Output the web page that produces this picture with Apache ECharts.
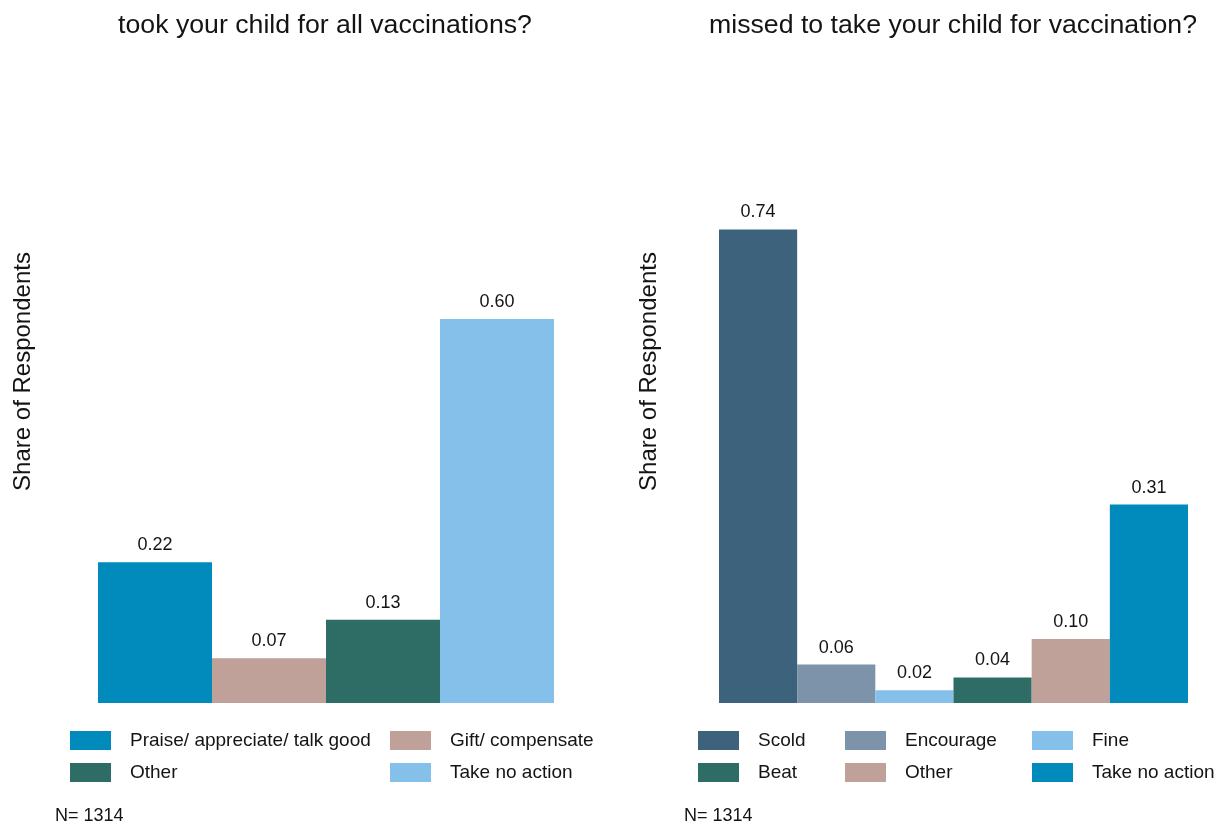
<!DOCTYPE html>
<html>
<head>
<meta charset="utf-8">
<script src="https://cdn.jsdelivr.net/npm/echarts@6/dist/echarts.min.js"></script>
<style>
  html, body { margin: 0; padding: 0; background: #ffffff; }
  #chart { width: 1230px; height: 827px; }
</style>
</head>
<body>
<div id="chart"></div>
<script>
// Survey answers: reaction when the respondent...
const leftTitle = 'took your child for all vaccinations?';
const leftNames = ['Praise/ appreciate/ talk good', 'Gift/ compensate', 'Other', 'Take no action'];
const leftValues = [0.22, 0.07, 0.13, 0.60];
const leftColors = ['#008bbc', '#bfa19a', '#2e6d65', '#85c0ea'];

const rightTitle = 'missed to take your child for vaccination?';
const rightNames = ['Scold', 'Encourage', 'Fine', 'Beat', 'Other', 'Take no action'];
const rightValues = [0.74, 0.06, 0.02, 0.04, 0.10, 0.31];
const rightColors = ['#3d627c', '#7c93aa', '#85c0ea', '#2e6d65', '#bfa19a', '#008bbc'];

const sampleNote = 'N= 1314';
const yAxisTitle = 'Share of Respondents';

const FONT = '"Liberation Sans", Arial, Helvetica, sans-serif';
const TEXT = '#141414';

// Series ids keep the two panels apart even where answer names repeat
function makeSeries(names, values, colors, idx) {
  return names.map((name, i) => ({
    id: 'p' + idx + '_' + i,
    name: name,
    type: 'bar',
    xAxisIndex: idx,
    yAxisIndex: idx,
    barGap: '0%',
    barCategoryGap: '0%',
    data: [values[i]],
    itemStyle: { color: colors[i] },
    label: {
      show: true,
      position: 'top',
      distance: 8,
      formatter: p => p.value.toFixed(2),
      fontFamily: FONT,
      fontSize: 18,
      color: TEXT
    },
    emphasis: { disabled: true },
    animation: false
  }));
}

// One legend column per block; each entry carries its own swatch colour
function legendColumn(names, colors, left, idxList) {
  return {
    orient: 'vertical',
    left: left,
    top: 726,
    itemWidth: 41,
    itemHeight: 19,
    itemGap: 13,
    icon: 'rect',
    selectedMode: false,
    data: idxList.map(i => ({ name: names[i], itemStyle: { color: colors[i] } })),
    textStyle: { fontFamily: FONT, fontSize: 19, color: TEXT, padding: [0, 0, 0, 14] }
  };
}

const chart = echarts.init(document.getElementById('chart'), null, { renderer: 'canvas' });

const hiddenY = (gap) => ({
  type: 'value',
  min: 0,
  max: 1.036,
  name: yAxisTitle,
  nameLocation: 'middle',
  nameGap: gap,
  nameTextStyle: { fontFamily: FONT, fontSize: 24, color: TEXT },
  axisLine: { show: false },
  axisTick: { show: false },
  axisLabel: { show: false },
  splitLine: { show: false }
});

const hiddenX = (idx) => ({
  type: 'category',
  gridIndex: idx,
  data: [''],
  axisLine: { show: false },
  axisTick: { show: false },
  axisLabel: { show: false },
  splitLine: { show: false }
});

chart.setOption({
  backgroundColor: '#ffffff',
  animation: false,
  title: [
    { text: leftTitle, left: 320, top: 7, textAlign: 'center',
      textStyle: { fontFamily: FONT, fontSize: 26.7, fontWeight: 'normal', color: TEXT } },
    { text: rightTitle, left: 948, top: 7, textAlign: 'center',
      textStyle: { fontFamily: FONT, fontSize: 26.7, fontWeight: 'normal', color: TEXT } },
    { text: sampleNote, left: 50, top: 802,
      textStyle: { fontFamily: FONT, fontSize: 18, fontWeight: 'normal', color: TEXT } },
    { text: sampleNote, left: 679, top: 802,
      textStyle: { fontFamily: FONT, fontSize: 18, fontWeight: 'normal', color: TEXT } }
  ],
  grid: [
    { left: 98, width: 456, top: 40, bottom: 124 },
    { left: 719, width: 469, top: 40, bottom: 124 }
  ],
  xAxis: [hiddenX(0), hiddenX(1)],
  yAxis: [
    Object.assign(hiddenY(63), { gridIndex: 0 }),
    Object.assign(hiddenY(58), { gridIndex: 1 })
  ],
  legend: [
    legendColumn(leftNames, leftColors, 65, [0, 2]),
    legendColumn(leftNames, leftColors, 385, [1, 3]),
    legendColumn(rightNames, rightColors, 693, [0, 3]),
    legendColumn(rightNames, rightColors, 840, [1, 4]),
    legendColumn(rightNames, rightColors, 1027, [2, 5])
  ],
  series: makeSeries(leftNames, leftValues, leftColors, 0)
    .concat(makeSeries(rightNames, rightValues, rightColors, 1))
});
</script>
</body>
</html>
